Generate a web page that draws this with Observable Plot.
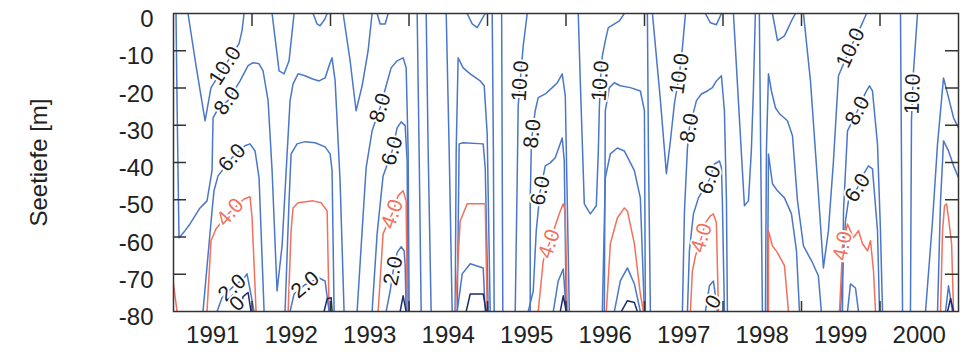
<!DOCTYPE html>
<html>
<head>
<meta charset="utf-8">
<script src="https://cdn.jsdelivr.net/npm/d3@7"></script>
<script src="https://cdn.jsdelivr.net/npm/@observablehq/plot@0.6"></script>
<style>
  body { margin: 0; background: #fff; }
</style>
</head>
<body>
<div id="chart"></div>
<script>
// Axis values
const years = [1991, 1992, 1993, 1994, 1995, 1996, 1997, 1998, 1999, 2000];
const yearBounds = [1992, 1993, 1994, 1995, 1996, 1997, 1998, 1999, 2000];
const depthTicks = [0, -10, -20, -30, -40, -50, -60, -70, -80];

// Oxygen isolines (mg/l): each line is a list of [decimal year, depth in m]
const iso10 = [
  [[1991.185,0],[1991.287,-14.0],[1991.402,-28.8],[1991.478,-19.9],[1991.656,-14.0],[1991.835,-8.1],[1991.873,-4.6],[1991.899,0]],
  [[1992.256,0],[1992.345,-15.4],[1992.409,-16.2],[1992.472,-12.7],[1992.536,0]],
  [[1992.778,0],[1992.829,-2.8],[1992.867,-3.3],[1992.931,-1.4],[1992.957,0]],
  [[1993.161,0],[1993.250,-12.7],[1993.326,-26.1],[1993.403,-19.4],[1993.479,-10.0],[1993.530,0]],
  [[1993.594,0],[1993.632,-2.8],[1993.696,-2.8],[1993.734,0]],
  [[1994.104,0],[1994.129,-36.9],[1994.155,-80]],
  [[1994.219,0],[1994.244,-36.9],[1994.282,-80]],
  [[1994.474,0],[1994.512,-36.9],[1994.550,-80]],
  [[1994.741,0],[1994.805,-2.8],[1994.869,-3.8],[1994.933,-1.4],[1994.971,0]],
  [[1995.060,0],[1995.075,-36.9],[1995.085,-80]],
  [[1995.180,0],[1995.195,-80]],
  [[1995.506,0],[1995.455,-8.7],[1995.417,-18.1],[1995.391,-24.8],[1995.378,-44.9],[1995.353,-80]],
  [[1996.156,0],[1996.182,-18.1],[1996.233,-51.1],[1996.310,-53.8],[1996.386,-51.6],[1996.412,-36.9],[1996.424,-26.1],[1996.437,-18.1],[1996.463,-11.4],[1996.501,-7.3],[1996.539,-3.8],[1996.603,-3.0],[1996.680,-2.0],[1996.743,0]],
  [[1997.037,0],[1997.050,-36.9],[1997.075,-80]],
  [[1997.101,0],[1997.203,-23.4],[1997.279,-43.0],[1997.330,-34.2],[1997.381,-24.2],[1997.445,-16.2],[1997.483,-9.2],[1997.522,0]],
  [[1997.776,0],[1997.840,-2.5],[1997.916,-3.0],[1997.980,0]],
  [[1998.133,0],[1998.196,-23.4],[1998.273,-51.6],[1998.324,-50.3],[1998.361,-36.9],[1998.387,-20.8],[1998.412,0]],
  [[1998.463,0],[1998.480,-36.9],[1998.502,-80]],
  [[1998.630,0],[1998.694,-7.3],[1998.783,-6.0],[1998.872,-2.0],[1998.923,0]],
  [[1999.025,0],[1999.114,-18.1],[1999.204,-44.9],[1999.279,-68.3],[1999.343,-58.3],[1999.407,-39.6],[1999.471,-16.7],[1999.624,-9.2],[1999.777,-2.5],[1999.828,0]],
  [[2000.261,0],[2000.287,-80]],
  [[2000.478,0],[2000.427,-15.4],[2000.414,-21.6],[2000.401,-28.8],[2000.388,-80]]
];

const iso8 = [
  [[1991.032,0],[1991.045,-23.4],[1991.070,-60.2],[1991.147,-58.3],[1991.210,-56.5],[1991.338,-52.2],[1991.427,-50.3],[1991.491,-42.2],[1991.504,-28.0],[1991.567,-25.6],[1991.695,-23.4],[1991.848,-18.1],[1991.950,-14.0],[1992.013,-13.2],[1992.090,-13.5],[1992.141,-15.4],[1992.205,-23.4],[1992.256,-42.2],[1992.319,-74.5],[1992.383,-62.4],[1992.447,-37.7],[1992.485,-23.4],[1992.523,-18.9],[1992.587,-16.2],[1992.676,-16.7],[1992.765,-17.5],[1992.855,-18.1],[1992.931,-17.3],[1992.995,-13.2],[1993.020,-11.9],[1993.059,-18.1],[1993.122,-44.9],[1993.173,-80]],
  [[1993.339,-80],[1993.403,-58.3],[1993.454,-41.4],[1993.530,-31.5],[1993.632,-25.3],[1993.709,-19.4],[1993.772,-14.6],[1993.849,-12.7],[1993.925,-11.9],[1993.964,-14.6],[1993.989,-36.9],[1994.002,-80]],
  [[1994.588,-80],[1994.601,-36.9],[1994.626,-11.9],[1994.690,-14.6],[1994.780,-16.2],[1994.907,-18.1],[1994.958,-19.4],[1994.996,-32.3],[1995.034,-80]],
  [[1995.544,-80],[1995.544,-50.3],[1995.557,-36.9],[1995.570,-32.3],[1995.608,-26.1],[1995.646,-22.6],[1995.736,-21.6],[1995.825,-19.9],[1995.889,-18.6],[1995.952,-16.2],[1995.991,-22.1],[1996.016,-50.3],[1996.042,-80]],
  [[1996.488,-80],[1996.501,-26.1],[1996.552,-19.9],[1996.616,-18.6],[1996.692,-19.4],[1996.820,-19.9],[1996.947,-20.8],[1996.999,-26.1],[1997.011,-80]],
  [[1997.483,-80],[1997.509,-53.0],[1997.547,-36.1],[1997.572,-30.7],[1997.662,-23.4],[1997.725,-21.6],[1997.801,-20.8],[1997.865,-19.9],[1997.916,-18.1],[1997.980,-16.7],[1998.018,-26.1],[1998.044,-50.3],[1998.056,-80]],
  [[1998.541,-80],[1998.553,-36.9],[1998.579,-16.2],[1998.617,-20.8],[1998.668,-25.3],[1998.719,-26.9],[1998.821,-28.8],[1998.885,-32.8],[1998.949,-50.3],[1999.025,-62.4],[1999.140,-66.9],[1999.215,-70.4],[1999.253,-80]],
  [[1999.522,-80],[1999.535,-53.0],[1999.586,-31.5],[1999.713,-26.1],[1999.815,-21.3],[1999.866,-19.4],[1999.904,-20.8],[1999.968,-35.0],[2000.006,-58.3],[2000.032,-80]],
  [[2000.580,-80],[2000.669,-55.7],[2000.733,-35.0],[2000.809,-17.3],[2000.873,-22.6],[2000.937,-28.0],[2001.0,-30.7]]
];

const iso6 = [
  [[1991.376,-80],[1991.453,-61.8],[1991.491,-53.0],[1991.516,-47.6],[1991.567,-43.6],[1991.746,-38.7],[1991.911,-35.5],[1991.975,-35.0],[1992.039,-36.9],[1992.090,-44.1],[1992.154,-80]],
  [[1992.421,-80],[1992.472,-50.3],[1992.498,-37.7],[1992.574,-35.0],[1992.676,-34.4],[1992.804,-34.7],[1992.931,-35.8],[1992.995,-37.7],[1993.020,-42.2],[1993.046,-80]],
  [[1993.530,-80],[1993.594,-59.1],[1993.670,-43.6],[1993.785,-36.9],[1993.849,-30.7],[1993.900,-29.1],[1993.951,-30.1],[1993.976,-39.6],[1993.989,-80]],
  [[1994.614,-80],[1994.639,-35.0],[1994.690,-34.7],[1994.945,-35.0],[1994.971,-41.4],[1995.009,-80]],
  [[1995.519,-80],[1995.583,-74.5],[1995.621,-58.3],[1995.646,-53.0],[1995.672,-47.6],[1995.736,-40.9],[1995.799,-40.1],[1995.863,-38.7],[1995.952,-33.4],[1995.978,-39.6],[1996.003,-80]],
  [[1996.463,-80],[1996.501,-44.1],[1996.565,-37.7],[1996.654,-36.1],[1996.743,-36.9],[1996.871,-42.2],[1996.947,-49.5],[1996.999,-80]],
  [[1997.547,-80],[1997.572,-63.7],[1997.623,-53.8],[1997.687,-49.5],[1997.827,-44.6],[1997.891,-40.4],[1997.955,-39.6],[1997.980,-41.4],[1997.992,-50.3],[1998.018,-80]],
  [[1998.566,-80],[1998.579,-37.7],[1998.630,-45.7],[1998.694,-47.6],[1998.783,-49.5],[1998.872,-53.8],[1998.936,-63.7],[1998.974,-80]],
  [[1999.496,-80],[1999.560,-55.7],[1999.598,-50.3],[1999.713,-46.8],[1999.802,-42.7],[1999.853,-40.9],[1999.904,-41.7],[1999.968,-58.3],[1999.994,-80]],
  [[2000.733,-80],[2000.771,-50.3],[2000.797,-39.6],[2000.809,-34.2],[2000.873,-36.9],[2000.937,-40.9],[2001.0,-44.1]]
];

const iso4 = [
  [[1991.0,-72.6],[1991.045,-80]],
  [[1991.427,-80],[1991.478,-61.0],[1991.542,-57.8],[1991.720,-53.3],[1991.899,-49.8],[1991.975,-49.2],[1992.001,-54.9],[1992.052,-80]],
  [[1992.460,-80],[1992.498,-58.3],[1992.523,-52.2],[1992.587,-50.8],[1992.778,-50.3],[1992.880,-50.8],[1992.957,-53.0],[1992.982,-80]],
  [[1993.607,-80],[1993.670,-59.1],[1993.785,-53.8],[1993.862,-48.9],[1993.925,-47.6],[1993.964,-50.3],[1993.976,-80]],
  [[1994.588,-80],[1994.652,-55.7],[1994.741,-51.1],[1994.971,-51.1],[1994.996,-80]],
  [[1995.646,-80],[1995.672,-74.5],[1995.710,-66.4],[1995.786,-61.8],[1995.863,-57.0],[1995.927,-53.0],[1995.965,-51.1],[1995.991,-53.0],[1996.016,-80]],
  [[1996.514,-80],[1996.565,-61.8],[1996.654,-54.9],[1996.743,-52.2],[1996.782,-53.0],[1996.871,-61.8],[1996.947,-75.3],[1996.986,-80]],
  [[1997.585,-80],[1997.610,-69.1],[1997.649,-65.1],[1997.725,-60.2],[1997.776,-56.2],[1997.840,-54.3],[1997.878,-53.8],[1997.916,-56.2],[1997.942,-80]],
  [[1998.579,-80],[1998.579,-58.3],[1998.630,-62.4],[1998.694,-64.2],[1998.783,-67.7],[1998.834,-80]],
  [[1999.484,-80],[1999.509,-69.1],[1999.522,-62.4],[1999.586,-56.5],[1999.662,-60.2],[1999.726,-58.3],[1999.777,-61.8],[1999.841,-63.7],[1999.879,-61.0],[1999.917,-69.1],[1999.943,-80]],
  [[2000.771,-80],[2000.797,-58.3],[2000.822,-51.6],[2000.848,-51.1],[2000.873,-54.9],[2000.912,-61.8],[2000.937,-80]]
];

const iso2 = [
  [[1991.555,-80],[1991.618,-76.3],[1991.746,-73.6],[1991.899,-71.0],[1991.937,-69.9],[1992.001,-77.1],[1992.026,-80]],
  [[1992.485,-80],[1992.536,-75.3],[1992.676,-72.8],[1992.855,-71.0],[1992.931,-71.8],[1992.982,-80]],
  [[1993.709,-80],[1993.760,-74.5],[1993.798,-69.1],[1993.849,-64.2],[1993.900,-62.6],[1993.938,-63.7],[1993.951,-67.7],[1993.964,-80]],
  [[1994.614,-80],[1994.678,-69.9],[1994.780,-67.2],[1994.945,-68.3],[1994.971,-80]],
  [[1995.838,-80],[1995.901,-71.8],[1995.965,-68.6],[1996.003,-80]],
  [[1996.616,-80],[1996.692,-71.8],[1996.782,-68.3],[1996.871,-72.6],[1996.947,-80]],
  [[1997.776,-80],[1997.827,-73.1],[1997.878,-71.8],[1997.929,-80]],
  [[1999.586,-80],[1999.624,-72.6],[1999.688,-73.7],[1999.726,-80]],
  [[2000.835,-80],[2000.873,-73.1],[2000.924,-80]]
];

const iso0 = [
  [[1991.848,-80],[1991.886,-76.0],[1991.950,-74.9],[1991.988,-80]],
  [[1992.918,-80],[1992.957,-76.6],[1993.008,-76.3],[1993.020,-80]],
  [[1993.887,-80],[1993.925,-75.8],[1993.964,-80]],
  [[1994.728,-80],[1994.780,-75.3],[1994.945,-75.3],[1994.983,-80]],
  [[1995.927,-80],[1995.965,-75.8],[1996.003,-80]],
  [[1996.705,-80],[1996.782,-77.1],[1996.871,-77.6],[1996.909,-80]],
  [[2000.860,-80],[2000.899,-76.5],[2000.937,-80]]
];

// Inline isoline labels: [text, decimal year, depth, rotation in degrees, level]
const contourLabels = [
  ["10.0", 1991.656, -14.0, -57, 10],
  ["8.0", 1991.682, -23.4, -54, 8],
  ["6.0", 1991.746, -38.7, -48, 6],
  ["4.0", 1991.720, -53.3, -48, 4],
  ["2.0", 1991.746, -73.6, -42, 2],
  ["0", 1991.809, -77.9, -45, 0],
  ["2.0", 1992.676, -72.8, -40, 2],
  ["8.0", 1993.632, -25.3, -73, 8],
  ["6.0", 1993.785, -36.9, -74, 6],
  ["4.0", 1993.785, -53.8, -70, 4],
  ["2.0", 1993.798, -69.1, -78, 2],
  ["10.0", 1995.417, -18.1, -86, 10],
  ["8.0", 1995.570, -32.3, -83, 8],
  ["6.0", 1995.672, -47.6, -78, 6],
  ["4.0", 1995.786, -61.8, -71, 4],
  ["10.0", 1996.437, -18.1, -86, 10],
  ["10.0", 1997.445, -16.2, -82, 10],
  ["8.0", 1997.572, -30.7, -80, 8],
  ["6.0", 1997.827, -44.6, -68, 6],
  ["4.0", 1997.725, -60.2, -73, 4],
  ["0", 1997.878, -77.4, -60, 0],
  ["10.0", 1999.624, -9.2, -65, 10],
  ["8.0", 1999.713, -26.1, -62, 8],
  ["6.0", 1999.713, -46.8, -58, 6],
  ["4.0", 1999.522, -62.4, -78, 4],
  ["10.0", 2000.414, -21.6, -88, 10]
];

const blue = "#4b77c8";
const red = "#f2705c";
const navy = "#1c2b6e";
const ink = "#333";

// Flatten a set of polylines into rows with a series id
const toRows = (lines) => lines.flatMap((pts, i) => pts.map(([t, d]) => ({id: i, t, d})));

const isoMark = (lines, stroke) =>
  Plot.line(toRows(lines), {x: "t", y: "d", z: "id", stroke, strokeWidth: 1.5, clip: true});

const labelStyle = {
  x: (d) => d[1], y: (d) => d[2], text: (d) => d[0], rotate: (d) => d[3],
  stroke: "white", strokeWidth: 4, fontSize: 21
};

const innerDepths = depthTicks.slice(1, -1);
const frameW = 960 - 173 - 2;
const frameH = 354 - 13 - 43;

const chart = Plot.plot({
  width: 960,
  height: 354,
  marginLeft: 173,
  marginRight: 2,
  marginTop: 13,
  marginBottom: 43,
  x: {domain: [1991, 2001]},
  y: {domain: [-80, 0]},
  style: {fontFamily: "'Liberation Sans', Arial, Helvetica, sans-serif", background: "white", color: "#222"},
  marks: [
    isoMark(iso10, blue),
    isoMark(iso8, blue),
    isoMark(iso6, blue),
    isoMark(iso4, red),
    isoMark(iso2, blue),
    isoMark(iso0, navy),
    Plot.text(contourLabels.filter((d) => d[4] !== 4), {...labelStyle, fill: "#1a1a1a"}),
    Plot.text(contourLabels.filter((d) => d[4] === 4), {...labelStyle, fill: red}),
    Plot.frame({stroke: ink, strokeWidth: 1.5}),
    // inward tick marks on all four sides
    Plot.ruleY(innerDepths, {y: (d) => d, stroke: ink, strokeWidth: 1.5, insetRight: frameW - 13}),
    Plot.ruleY(innerDepths, {y: (d) => d, stroke: ink, strokeWidth: 1.5, insetLeft: frameW - 13}),
    Plot.ruleX(yearBounds, {x: (d) => d, stroke: ink, strokeWidth: 1.5, insetBottom: frameH - 13}),
    Plot.ruleX(yearBounds, {x: (d) => d, stroke: ink, strokeWidth: 1.5, insetTop: frameH - 10}),
    // tick labels and depth title
    Plot.axisY(depthTicks, {anchor: "left", tickSize: 0, tickPadding: 20, fontSize: 24, dy: 6,
      tickFormat: (d) => (d === 0 ? "0" : "-" + Math.abs(d)),
      label: "Seetiefe [m]", labelAnchor: "center", labelOffset: 144, labelArrow: "none"}),
    Plot.axisX(years.map((y) => y + 0.5), {anchor: "bottom", tickSize: 0, tickPadding: 14, fontSize: 24,
      tickFormat: (d) => String(Math.floor(d)), label: null})
  ]
});

document.getElementById("chart").appendChild(chart);
</script>
</body>
</html>
